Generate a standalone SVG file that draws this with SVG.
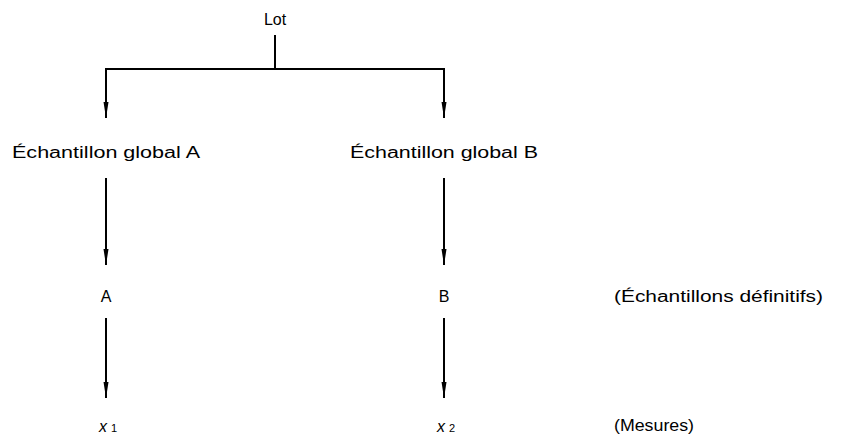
<svg xmlns="http://www.w3.org/2000/svg" width="848" height="434" viewBox="0 0 848 434">
<style>
text{font-family:"Liberation Sans",Arial,sans-serif;font-size:16px;fill:#000}
.c{stroke:#000;stroke-width:2;fill:none}
.m{text-anchor:middle}
</style>
<defs>
<marker id="ah" markerUnits="userSpaceOnUse" markerWidth="16" markerHeight="8" viewBox="0 0 16 8" refX="16" refY="4" orient="auto">
<path d="M0,1.5 L0,6.5 L16,4 Z" fill="#000"/>
</marker>
</defs>
<rect width="848" height="434" fill="#fff"/>
<g id="connectors">
<path class="c" d="M275,35 V69"/>
<path class="c" d="M106,69 H444"/>
<path class="c" d="M106,68 V118" marker-end="url(#ah)"/>
<path class="c" d="M444,68 V118" marker-end="url(#ah)"/>
<path class="c" d="M106,178 V265" marker-end="url(#ah)"/>
<path class="c" d="M444,178 V265" marker-end="url(#ah)"/>
<path class="c" d="M106,318 V398" marker-end="url(#ah)"/>
<path class="c" d="M444,318 V398" marker-end="url(#ah)"/>
</g>
<g id="lot"><text class="m" x="275" y="25">Lot</text></g>
<g id="globalA"><text x="12" y="158" textLength="188" lengthAdjust="spacingAndGlyphs">Échantillon global A</text></g>
<g id="globalB"><text x="350" y="158" textLength="188" lengthAdjust="spacingAndGlyphs">Échantillon global B</text></g>
<g id="A"><text class="m" x="106" y="302">A</text></g>
<g id="B"><text class="m" x="444" y="302">B</text></g>
<g id="x1"><text x="99" y="432" font-style="italic">x<tspan font-size="11" font-style="normal" dx="4">1</tspan></text></g>
<g id="x2"><text x="437" y="432" font-style="italic">x<tspan font-size="11" font-style="normal" dx="4">2</tspan></text></g>
<g id="def"><text x="614" y="302" textLength="209" lengthAdjust="spacingAndGlyphs">(Échantillons définitifs)</text></g>
<g id="mes"><text x="614" y="431" textLength="80" lengthAdjust="spacingAndGlyphs">(Mesures)</text></g>
</svg>
